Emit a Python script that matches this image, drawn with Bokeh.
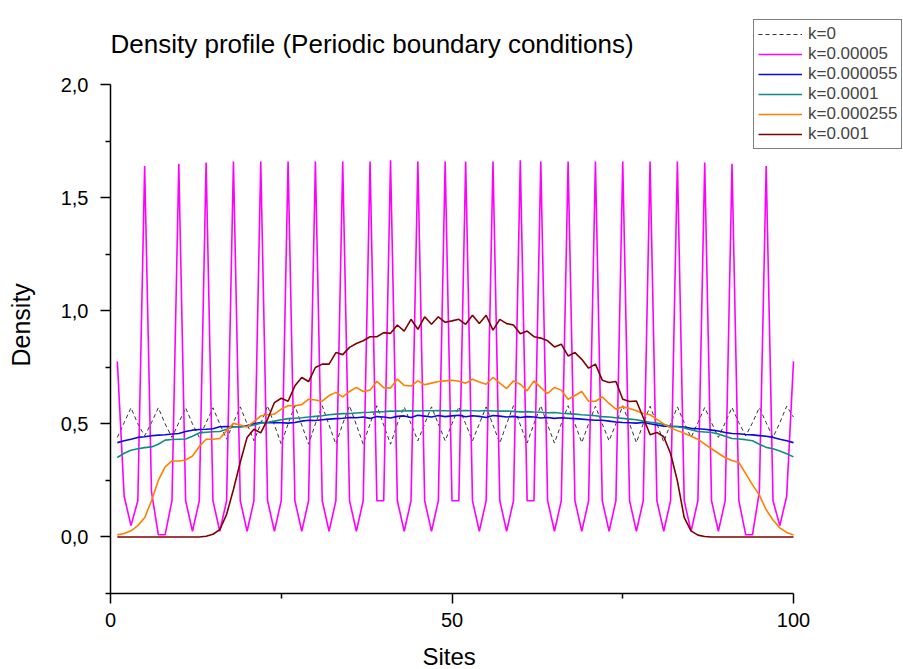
from bokeh.plotting import figure
from bokeh.models import Range1d, FixedTicker, Legend, LegendItem, Label, LinearAxis, Title
from bokeh.embed import file_html
from bokeh.resources import INLINE

sites = list(range(1, 101))

series_labels = ["k=0", "k=0.00005", "k=0.000055", "k=0.0001", "k=0.000255", "k=0.001"]

k0 = [0.44, 0.505, 0.571, 0.5, 0.447, 0.505, 0.571, 0.5, 0.44, 0.505,
      0.571, 0.5, 0.44, 0.505, 0.571, 0.5, 0.432, 0.505, 0.575, 0.5,
      0.425, 0.5, 0.58, 0.495, 0.41, 0.5, 0.58, 0.495, 0.41, 0.5,
      0.58, 0.495, 0.41, 0.5, 0.58, 0.495, 0.41, 0.5, 0.58, 0.495,
      0.41, 0.5, 0.575, 0.5, 0.425, 0.5, 0.575, 0.5, 0.425, 0.5,
      0.575, 0.5, 0.425, 0.5, 0.575, 0.495, 0.415, 0.5, 0.58, 0.495,
      0.415, 0.5, 0.58, 0.495, 0.415, 0.5, 0.58, 0.5, 0.417, 0.5,
      0.578, 0.5, 0.425, 0.5, 0.58, 0.5, 0.417, 0.5, 0.578, 0.5,
      0.42, 0.5, 0.575, 0.505, 0.44, 0.505, 0.572, 0.505, 0.44, 0.505,
      0.572, 0.505, 0.447, 0.505, 0.572, 0.505, 0.44, 0.505, 0.578, 0.53]

k_00005 = [0.776, 0.18, 0.05, 0.16, 1.64, 0.2, 0.01, 0.01, 0.16, 1.65,
           0.16, 0.025, 0.16, 1.655, 0.16, 0.025, 0.16, 1.66, 0.16, 0.025,
           0.16, 1.66, 0.16, 0.025, 0.16, 1.66, 0.16, 0.025, 0.16, 1.66,
           0.16, 0.025, 0.16, 1.66, 0.16, 0.025, 0.16, 1.66, 0.16, 0.16,
           1.665, 0.16, 0.025, 0.16, 1.66, 0.16, 0.025, 0.16, 1.66, 0.16,
           0.16, 1.66, 0.16, 0.025, 0.16, 1.66, 0.16, 0.025, 0.16, 1.665,
           0.16, 0.16, 1.66, 0.16, 0.025, 0.16, 1.66, 0.16, 0.025, 0.16,
           1.66, 0.16, 0.025, 0.16, 1.66, 0.16, 0.025, 0.16, 1.66, 0.16,
           0.025, 0.16, 1.66, 0.16, 0.025, 0.16, 1.655, 0.16, 0.025, 0.16,
           1.65, 0.16, 0.01, 0.01, 0.2, 1.64, 0.16, 0.05, 0.18, 0.776]

k_000055 = [0.417, 0.425, 0.432, 0.44, 0.443, 0.447, 0.45, 0.452, 0.455, 0.457,
            0.466, 0.472, 0.475, 0.476, 0.478, 0.487, 0.488, 0.487, 0.487, 0.492,
            0.5, 0.506, 0.505, 0.506, 0.505, 0.503, 0.506, 0.512, 0.516, 0.515,
            0.518, 0.521, 0.523, 0.525, 0.528, 0.527, 0.53, 0.524, 0.532, 0.53,
            0.526, 0.533, 0.535, 0.528, 0.538, 0.534, 0.53, 0.537, 0.532, 0.535,
            0.538, 0.531, 0.536, 0.533, 0.528, 0.537, 0.534, 0.53, 0.533, 0.528,
            0.532, 0.53, 0.526, 0.528, 0.524, 0.527, 0.525, 0.523, 0.521, 0.518,
            0.516, 0.516, 0.512, 0.508, 0.506, 0.505, 0.503, 0.506, 0.5, 0.495,
            0.49, 0.488, 0.488, 0.486, 0.48, 0.478, 0.476, 0.472, 0.468, 0.462,
            0.457, 0.456, 0.453, 0.451, 0.448, 0.445, 0.44, 0.432, 0.425, 0.417]

k_0001 = [0.351, 0.37, 0.383, 0.39, 0.395, 0.398, 0.41, 0.428, 0.431, 0.432,
          0.433, 0.445, 0.46, 0.463, 0.465, 0.466, 0.476, 0.487, 0.487, 0.488,
          0.495, 0.503, 0.507, 0.512, 0.518, 0.523, 0.525, 0.527, 0.53, 0.533,
          0.536, 0.54, 0.543, 0.545, 0.546, 0.548, 0.55, 0.551, 0.553, 0.554,
          0.556, 0.556, 0.557, 0.558, 0.557, 0.558, 0.558, 0.559, 0.558, 0.557,
          0.558, 0.559, 0.558, 0.557, 0.559, 0.557, 0.556, 0.557, 0.555, 0.553,
          0.554, 0.552, 0.551, 0.549, 0.55, 0.547, 0.545, 0.543, 0.54, 0.538,
          0.536, 0.532, 0.53, 0.527, 0.524, 0.521, 0.518, 0.512, 0.507, 0.503,
          0.497, 0.489, 0.487, 0.482, 0.474, 0.466, 0.464, 0.462, 0.455, 0.445,
          0.435, 0.433, 0.43, 0.425, 0.41, 0.396, 0.39, 0.38, 0.368, 0.354]

k_000255 = [0.009, 0.015, 0.027, 0.05, 0.085, 0.16, 0.25, 0.31, 0.336, 0.336,
            0.34, 0.358, 0.4, 0.432, 0.432, 0.435, 0.47, 0.502, 0.495, 0.487,
            0.51, 0.535, 0.54, 0.543, 0.565, 0.58, 0.58, 0.585, 0.609, 0.605,
            0.6, 0.625, 0.639, 0.619, 0.643, 0.661, 0.643, 0.649, 0.688, 0.66,
            0.658, 0.698, 0.67, 0.667, 0.69, 0.673, 0.68, 0.687, 0.69, 0.693,
            0.688, 0.68, 0.697, 0.685, 0.675, 0.705, 0.68, 0.656, 0.69, 0.675,
            0.646, 0.69, 0.66, 0.634, 0.661, 0.649, 0.609, 0.625, 0.643, 0.6,
            0.6, 0.619, 0.59, 0.565, 0.575, 0.568, 0.558, 0.546, 0.54, 0.52,
            0.5, 0.482, 0.47, 0.458, 0.445, 0.432, 0.41, 0.39, 0.37, 0.35,
            0.338, 0.329, 0.28, 0.23, 0.185, 0.12, 0.075, 0.04, 0.02, 0.009]

k_001 = [0.0, 0.0, 0.0, 0.0, 0.0, 0.0, 0.0, 0.0, 0.0, 0.0,
         0.0, 0.0, 0.0, 0.003, 0.012, 0.032, 0.1, 0.21, 0.33, 0.44,
         0.476, 0.46, 0.52, 0.594, 0.613, 0.6, 0.668, 0.705, 0.687, 0.749,
         0.764, 0.764, 0.815, 0.806, 0.838, 0.855, 0.867, 0.885, 0.885, 0.903,
         0.9, 0.937, 0.91, 0.962, 0.918, 0.973, 0.94, 0.973, 0.949, 0.955,
         0.962, 0.94, 0.98, 0.943, 0.98, 0.914, 0.962, 0.943, 0.937, 0.898,
         0.91, 0.885, 0.879, 0.867, 0.84, 0.852, 0.8, 0.815, 0.785, 0.746,
         0.764, 0.693, 0.683, 0.687, 0.609, 0.599, 0.601, 0.528, 0.452, 0.462,
         0.443, 0.369, 0.248, 0.085, 0.027, 0.008, 0.002, 0.0, 0.0, 0.0,
         0.0, 0.0, 0.0, 0.0, 0.0, 0.0, 0.0, 0.0, 0.0, 0.0]

x_ticks = [0, 50, 100]
x_minor_ticks = [25, 75]
y_ticks = [0, 0.5, 1.0, 1.5, 2.0]
y_minor_ticks = [-0.25, 0.25, 0.75, 1.25, 1.75]
y_tick_labels = ["0,0", "0,5", "1,0", "1,5", "2,0"]

TITLE = "Density profile (Periodic boundary conditions)"
X_LABEL = "Sites"
Y_LABEL = "Density"

FONT = "Liberation Sans"

# Layout geometry (pixels) used to size the frame so the legend (which sits
# above/right of the axes in the original) is not clipped.
W, H = 903, 669
LEFT, RIGHT_AXIS_END, TOP_LEGEND, TOP_AXIS, BOTTOM = 110, 793, 14, 84, 593
X0, X1 = 0.0, 100.0
Y0, Y1 = -0.25, 2.0
px_per_x = (RIGHT_AXIS_END - LEFT) / (X1 - X0)
px_per_y = (BOTTOM - TOP_AXIS) / (Y1 - Y0)
x_end = X0 + (W - LEFT) / px_per_x
y_end = Y1 + (TOP_AXIS - TOP_LEGEND) / px_per_y

p = figure(width=W, height=H, output_backend="svg", toolbar_location=None,
           x_range=Range1d(X0, x_end), y_range=Range1d(Y0, y_end),
           min_border_left=LEFT, min_border_right=0, min_border_top=TOP_LEGEND,
           min_border_bottom=H - BOTTOM)
p.background_fill_color = "white"
p.border_fill_color = "white"
p.outline_line_color = None
p.grid.visible = False
p.title.visible = False

for ax in (p.xaxis[0], p.yaxis[0]):
    ax.axis_line_color = "black"
    ax.axis_line_width = 1.5
    ax.major_tick_line_color = "black"
    ax.major_tick_line_width = 1.5
    ax.minor_tick_line_color = "black"
    ax.minor_tick_line_width = 1.5
    ax.major_tick_out = 10
    ax.major_tick_in = 0
    ax.minor_tick_out = 5
    ax.minor_tick_in = 0
    ax.major_label_text_font = FONT
    ax.major_label_text_font_size = "20px"
    ax.major_label_text_color = "black"

p.xaxis.bounds = (X0, X1)
p.yaxis.bounds = (Y0, Y1)
p.xaxis.ticker = FixedTicker(ticks=x_ticks, minor_ticks=x_minor_ticks)
p.yaxis.ticker = FixedTicker(ticks=y_ticks, minor_ticks=y_minor_ticks)
p.yaxis.major_label_overrides = {t: lab for t, lab in zip(y_ticks, y_tick_labels)}
p.xaxis.major_label_standoff = 9
p.yaxis.major_label_standoff = 12


def spacer_axis(size):
    # empty, invisible axis used only to reserve about `size` pixels
    return LinearAxis(ticker=FixedTicker(ticks=[], minor_ticks=[]),
                      axis_line_color=None, major_tick_line_color=None,
                      minor_tick_line_color=None, major_tick_out=0,
                      major_tick_in=0, minor_tick_out=0, minor_tick_in=0,
                      axis_label=" ", axis_label_standoff=size - 1,
                      axis_label_text_font_size="1px",
                      axis_label_text_alpha=0)


# axis titles placed as side-panel titles, aligned with the drawn axes
p.add_layout(spacer_axis(20), "left")
p.add_layout(Title(text=Y_LABEL, align="left", offset=227, standoff=0,
                   vertical_align="bottom", text_font=FONT,
                   text_font_size="25px", text_font_style="normal",
                   text_color="black"), "left")
p.add_layout(spacer_axis(8), "below")
p.add_layout(Title(text=X_LABEL, align="left", offset=312, standoff=0,
                   vertical_align="bottom", text_font=FONT,
                   text_font_size="24px", text_font_style="normal",
                   text_color="black"), "below")

colors = ["#333333", "#FF00FF", "#0A0ADC", "#138A8A", "#FF8000", "#800000"]
series = [k0, k_00005, k_000055, k_0001, k_000255, k_001]
items = []
for i, (lab, ys, c) in enumerate(zip(series_labels, series, colors)):
    if i == 0:
        r = p.line(sites, ys, line_color=c, line_width=1, line_dash="4 3")
    else:
        r = p.line(sites, ys, line_color=c, line_width=1.6)
    items.append(LegendItem(label=lab, renderers=[r]))

# chart title, baseline about 43 px from the top of the page
title_y = y_end - (43 - TOP_LEGEND) / px_per_y
p.add_layout(Label(x=X0, y=title_y, text=TITLE, text_font=FONT,
                   text_font_size="26px", text_color="black",
                   text_baseline="alphabetic", text_align="left"))

legend = Legend(items=items, location=(643, 444), padding=4, margin=0, spacing=0,
                glyph_width=44, glyph_height=20, label_height=20, label_standoff=6,
                label_text_font=FONT, label_text_font_size="17px",
                border_line_color="black", border_line_width=1,
                background_fill_color="white", background_fill_alpha=1)
p.add_layout(legend, "center")

open("out.html", "w").write(file_html(p, INLINE))
